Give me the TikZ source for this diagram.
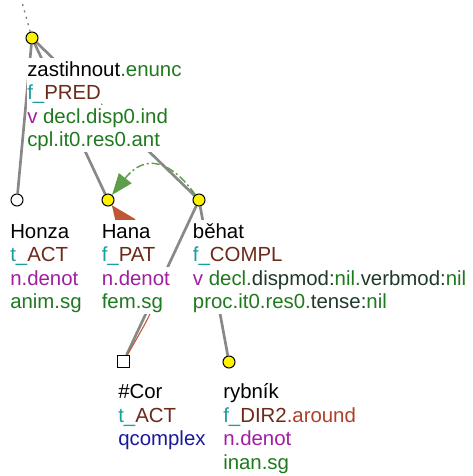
\documentclass[tikz,border=0pt]{standalone}
\usepackage{fontspec}
\setmainfont{Liberation Sans}
\usetikzlibrary{arrows.meta, positioning}
\definecolor{prefcol}{HTML}{1A9E9E}
\definecolor{functorcol}{HTML}{6B2A1A}
\definecolor{sempcol}{HTML}{A01FA0}
\definecolor{gramcol}{HTML}{1F7A1F}
\definecolor{attrcol}{HTML}{1F3A2A}
\definecolor{qcol}{HTML}{1A1A99}
\definecolor{subfcol}{HTML}{B0402A}
\definecolor{complcol}{HTML}{5E9E4A}
\definecolor{corefcol}{HTML}{C05633}
\definecolor{edgecol}{HTML}{888888}
\pgfdeclarelayer{edges}
\pgfdeclarelayer{labels}
\pgfsetlayers{edges,labels,main}

\begin{document}
\begin{tikzpicture}[x=0.75pt, y=-0.75pt,
    tnode/.style={circle, draw, fill=yellow, line width=0.75pt, minimum size=9pt, inner sep=0pt},
    tgen/.style={tnode, fill=white},
    tcor/.style={rectangle, draw, fill=white, line width=0.75pt, minimum size=8.8pt, inner sep=0pt},
    tedge/.style={draw=edgecol, line width=2pt},
    tlabel/.style={anchor=base west, fill=white, inner sep=0pt, text height=13.6pt, text depth=4pt,
                   font=\fontsize{15.3pt}{17.6pt}\selectfont},
    compl/.style={draw=complcol, line width=1.1pt, dash pattern=on 6pt off 2.2pt on 1.5pt off 2.2pt,
                  -{Triangle[length=16pt, width=12pt]}},
    coref/.style={draw=corefcol, line width=0.8pt, -{Triangle[length=19pt, width=16pt]}}]
            \useasboundingbox (0,0) rectangle (473,476);
            \coordinate (top) at (22.5,4);
            \draw (32,38) node[tnode] (root) {};
            \draw (17,200) node[tgen] (honza) {};
            \draw (108,200) node[tnode] (hana) {};
            \draw (199,200) node[tnode] (behat) {};
            \draw (123.5,361.5) node[tcor] (cor) {};
            \draw (229,362) node[tnode] (rybnik) {};

            \begin{pgfonlayer}{edges}
            \draw[gray, line width=1pt, dash pattern=on 1.5pt off 3.5pt] (top) -- (root);
            \path[tedge]
            (root) edge (honza)
                   edge (hana)
                   edge (behat)
            (behat) edge (cor)
                    edge (rybnik);
            \draw[coref] (cor) .. controls (169,283) .. (hana);
            \draw[compl] (behat) .. controls (172,162) and (146,152) .. (hana);
            \end{pgfonlayer}

            \begin{pgfonlayer}{labels}
            % zastihnout
            \node[tlabel] (root1) at (27,76) {zastihnout\textcolor{gramcol}{.enunc}};
            \node[tlabel] (root2) at (27,99.5) {\textcolor{prefcol}{f\_}\textcolor{functorcol}{PRED}};
            \node[tlabel] (root3) at (27,123) {\textcolor{sempcol}{v} \textcolor{gramcol}{decl.disp0.ind}};
            \node[tlabel] (root4) at (27,146.5) {\textcolor{gramcol}{cpl.it0.res0.ant}};
            % Honza
            \node[tlabel] (honza1) at (10,238) {Honza};
            \node[tlabel] (honza2) at (10,261.5) {\textcolor{prefcol}{t\_}\textcolor{functorcol}{ACT}};
            \node[tlabel] (honza3) at (10,285) {\textcolor{sempcol}{n.denot}};
            \node[tlabel] (honza4) at (10,308.5) {\textcolor{gramcol}{anim.sg}};
            % Hana
            \node[tlabel] (hana1) at (101.5,238) {Hana};
            \node[tlabel] (hana2) at (101.5,261.5) {\textcolor{prefcol}{f\_}\textcolor{functorcol}{PAT}};
            \node[tlabel] (hana3) at (101.5,285) {\textcolor{sempcol}{n.denot}};
            \node[tlabel] (hana4) at (101.5,308.5) {\textcolor{gramcol}{fem.sg}};
            % behat
            \node[tlabel] (behat1) at (192.7,238) {běhat};
            \node[tlabel] (behat2) at (192.7,261.5) {\textcolor{prefcol}{f\_}\textcolor{functorcol}{COMPL}};
            \node[tlabel] (behat3) at (192.7,285) {\textcolor{sempcol}{v} \textcolor{gramcol}{decl.}\textcolor{attrcol}{dispmod:}\textcolor{gramcol}{nil.}\textcolor{attrcol}{verbmod:}\textcolor{gramcol}{nil}};
            \node[tlabel] (behat4) at (192.7,308.5) {\textcolor{gramcol}{proc.it0.res0.}\textcolor{attrcol}{tense:}\textcolor{gramcol}{nil}};
            % #Cor
            \node[tlabel] (cor1) at (118,398.5) {\#Cor};
            \node[tlabel] (cor2) at (118,422) {\textcolor{prefcol}{t\_}\textcolor{functorcol}{ACT}};
            \node[tlabel] (cor3) at (118,445.5) {\textcolor{qcol}{qcomplex}};
            % rybnik
            \node[tlabel] (rybnik1) at (223,398.5) {rybník};
            \node[tlabel] (rybnik2) at (223,422) {\textcolor{prefcol}{f\_}\textcolor{functorcol}{DIR2}\textcolor{subfcol}{.around}};
            \node[tlabel] (rybnik3) at (223,445.5) {\textcolor{sempcol}{n.denot}};
            \node[tlabel] (rybnik4) at (223,469) {\textcolor{gramcol}{inan.sg}};
            \end{pgfonlayer}
        \end{tikzpicture}
\end{document}
